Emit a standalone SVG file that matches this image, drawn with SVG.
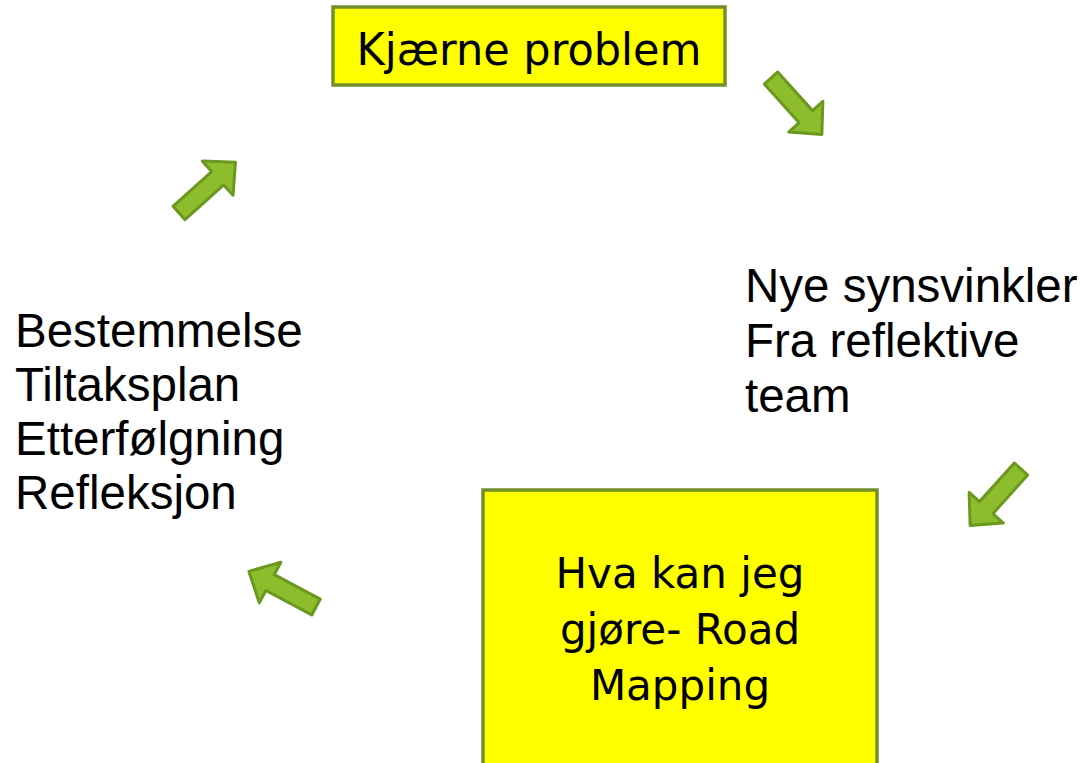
<svg xmlns="http://www.w3.org/2000/svg" width="1086" height="763" viewBox="0 0 1086 763">
<style>
.box{fill:#ffff00;stroke:#71902a;stroke-width:3.5}
.bt{font-family:"DejaVu Sans",Verdana,sans-serif;fill:#000;text-anchor:middle}
.pt{font-family:"Liberation Sans",Arial,sans-serif;font-size:47.5px;fill:#000}
.arr{fill:#8dbd2c;stroke:#6b981e;stroke-width:3;stroke-linejoin:round}
</style>
<defs>
<path id="blk" d="M0,-9 L52,-9 L52,-23 L76,0 L52,23 L52,9 L0,9 Z"/>
</defs>
<rect width="1086" height="763" fill="#ffffff"/>
<g id="kjaerne">
<rect class="box" x="333" y="7" width="392" height="78"/>
<text class="bt" x="529" y="65" font-size="44" textLength="345" lengthAdjust="spacingAndGlyphs">Kjærne problem</text>
</g>
<g id="nye">
<text class="pt" x="745" y="302">Nye synsvinkler</text>
<text class="pt" x="745" y="357">Fra reflektive</text>
<text class="pt" x="745" y="412">team</text>
</g>
<g id="hva">
<rect class="box" x="483" y="490" width="394" height="290"/>
<text class="bt" x="680" y="588" font-size="42">Hva kan jeg</text>
<text class="bt" x="680" y="644" font-size="42">gjøre- Road</text>
<text class="bt" x="680" y="700" font-size="42">Mapping</text>
</g>
<g id="bestemmelse">
<text class="pt" x="15" y="347">Bestemmelse</text>
<text class="pt" x="15" y="401">Tiltaksplan</text>
<text class="pt" x="15" y="455">Etterfølgning</text>
<text class="pt" x="15" y="509">Refleksjon</text>
</g>
<g id="connectors">
<use href="#blk" class="arr" transform="translate(771,78) rotate(48)"/>
<use href="#blk" class="arr" transform="translate(1021,469) rotate(132)"/>
<use href="#blk" class="arr" transform="translate(316,607) rotate(208)"/>
<use href="#blk" class="arr" transform="translate(179,213) rotate(-42)"/>
</g>
</svg>
